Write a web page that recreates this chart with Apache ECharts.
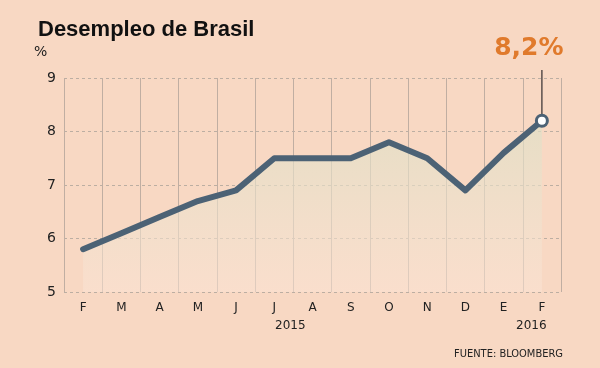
<!DOCTYPE html>
<html><head><meta charset="utf-8">
<style>html,body{margin:0;padding:0;background:#f8d8c3;}#c{width:600px;height:368px;}</style>
<script src="https://cdn.jsdelivr.net/npm/echarts@6/dist/echarts.min.js"></script>
</head><body><div id="c"></div>
<script>
var months = ['F','M','A','M','J','J','A','S','O','N','D','E','F'];
var rates = [5.8, 6.1, 6.4, 6.7, 6.9, 7.5, 7.5, 7.5, 7.8, 7.5, 6.9, 7.6, 8.2];
var yearLabels = ['2015', '2016'];
var lastLabel = '8,2%';
var title = 'Desempleo de Brasil';
var source = 'FUENTE: BLOOMBERG';

var chart = echarts.init(document.getElementById('c'));
var n = rates.length - 1;
var baseGraphics = [
  {type: 'text', left: 275, top: 320, style: {text: yearLabels[0], fill: '#222', font: '12px "DejaVu Sans"'}},
  {type: 'text', left: 516, top: 320, style: {text: yearLabels[1], fill: '#222', font: '12px "DejaVu Sans"'}},
  {type: 'text', right: 37, top: 349, style: {text: source, fill: '#222', font: '11px "DejaVu Sans Condensed"'}}
];
chart.setOption({
  backgroundColor: '#f8d8c3',
  animation: false,
  title: {
    text: title, left: 33, top: 14,
    textStyle: {fontFamily: 'Liberation Sans', fontWeight: 'bold', fontSize: 22, color: '#111'}
  },
  grid: {left: 64, right: 39, top: 78, bottom: 76},
  xAxis: {
    type: 'category', data: months, boundaryGap: true,
    axisLine: {show: false}, axisTick: {show: false},
    axisLabel: {color: '#222', fontSize: 12, fontFamily: 'DejaVu Sans', margin: 10},
    splitLine: {show: true, interval: 0, lineStyle: {color: '#c0aea2', width: 1}}
  },
  yAxis: {
    type: 'value', min: 5, max: 9, interval: 1,
    name: '%', nameLocation: 'end', nameGap: 19,
    nameTextStyle: {color: '#222', fontSize: 14, fontFamily: 'DejaVu Sans', align: 'left', padding: [0, 0, 0, -30]},
    axisLine: {show: false}, axisTick: {show: false},
    axisLabel: {color: '#222', fontSize: 14, fontFamily: 'DejaVu Sans', margin: 8},
    splitLine: {show: true, lineStyle: {color: '#bcaea2', type: [3, 3], width: 1}}
  },
  series: [{
    type: 'line', data: rates, smooth: false,
    lineStyle: {color: '#4c6275', width: 6, cap: 'round', join: 'round'},
    symbol: 'none',
    areaStyle: {color: new echarts.graphic.LinearGradient(0, 0, 0, 1, [
      {offset: 0, color: 'rgba(222,224,198,1)'},
      {offset: 1, color: 'rgba(251,228,213,0.75)'}
    ]), origin: 'start'},
    markPoint: {
      symbol: 'circle', symbolSize: 11,
      itemStyle: {color: '#ffffff', borderColor: '#4c6275', borderWidth: 3},
      label: {show: false},
      data: [{coord: [n, rates[n]]}]
    },
    z: 3
  }],
  graphic: baseGraphics
});

var p = chart.convertToPixel({seriesIndex: 0}, [n, rates[n]]);
var pTop = chart.convertToPixel({seriesIndex: 0}, [n, 9.15]);
chart.setOption({
  graphic: baseGraphics.concat([
    {type: 'line', z: 1, shape: {x1: p[0], y1: p[1] - 6, x2: p[0], y2: pTop[1]}, style: {stroke: '#5a4f4c', lineWidth: 1.5}},
    {type: 'text', z: 5, x: p[0] - 13, y: pTop[1] - 9, style: {text: lastLabel, fill: '#e07a2c', font: 'bold 25px "DejaVu Sans"', textAlign: 'center', textVerticalAlign: 'bottom'}}
  ])
}, {replaceMerge: ['graphic']});
</script></body></html>
